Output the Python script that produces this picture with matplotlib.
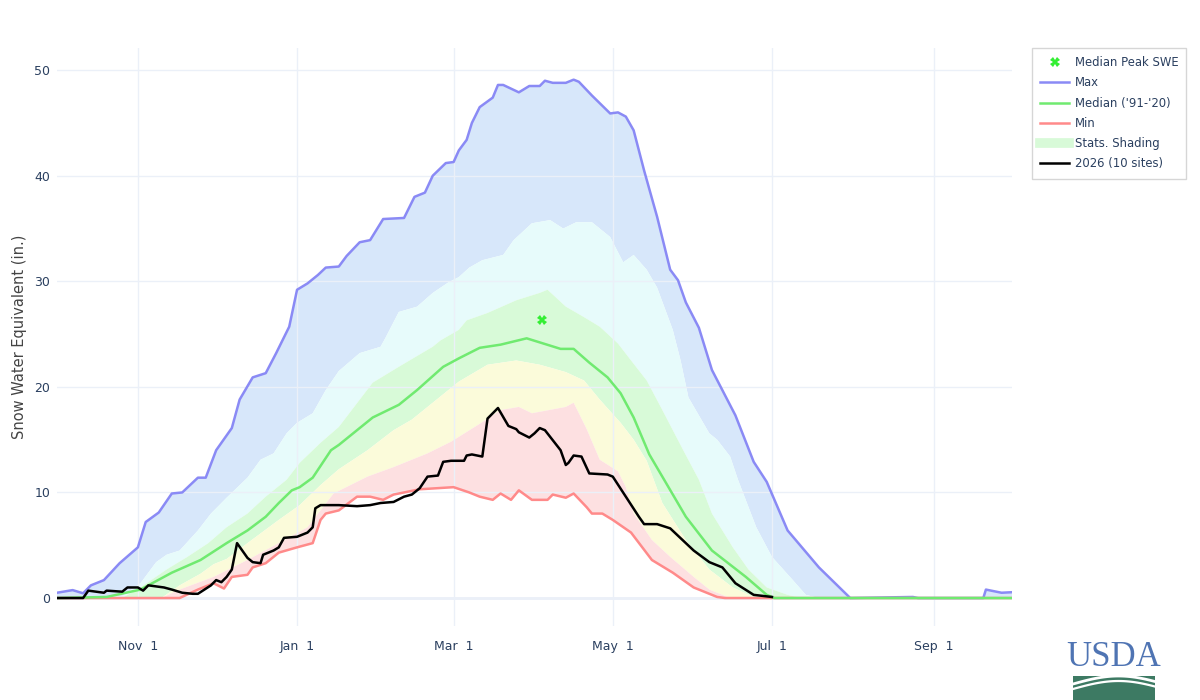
import numpy as np
import matplotlib
matplotlib.use('Agg')
import matplotlib.pyplot as plt
from matplotlib.lines import Line2D
from matplotlib.patches import Rectangle

plt.rcParams['font.family'] = ['DejaVu Sans']

# x values are days since Oct 1 (leap-year axis, 366 days)
max_day = [0, 6, 10, 13, 18, 24, 31, 34, 39, 44, 48, 54, 57, 61, 67, 70, 75, 80, 84, 89,
           92, 96, 100, 103, 108, 111, 116, 120, 125, 133, 137, 141, 144, 149, 152, 154,
           157, 159, 162, 167, 169, 171, 177, 181, 185, 187, 190, 195, 198, 200, 205,
           212, 215, 218, 221, 225, 230, 235, 238, 241, 246, 251, 260, 267, 272, 280,
           292, 304, 328, 330, 355, 356, 362, 366]
max_swe = [0.5, 0.75, 0.45, 1.2, 1.7, 3.3, 4.8, 7.2, 8.1, 9.9, 10.0, 11.4, 11.4, 14.0,
           16.1, 18.8, 20.9, 21.3, 23.2, 25.7, 29.2, 29.8, 30.6, 31.3, 31.4, 32.4, 33.7,
           33.9, 35.9, 36.0, 38.0, 38.4, 40.0, 41.2, 41.3, 42.4, 43.4, 45.0, 46.5, 47.4,
           48.6, 48.6, 47.9, 48.5, 48.5, 49.0, 48.8, 48.8, 49.1, 48.9, 47.6, 45.9, 46.0,
           45.6, 44.3, 40.5, 36.1, 31.1, 30.1, 28.0, 25.6, 21.6, 17.3, 12.9, 11.0, 6.4,
           2.9, 0.0, 0.1, 0.0, 0.0, 0.8, 0.5, 0.55]

p90_day = [0, 25, 32, 38, 42, 47, 54, 59, 65, 73, 78, 83, 88, 92, 98, 103, 108, 116,
           124, 126, 131, 138, 144, 150, 154, 158, 163, 171, 175, 182, 189, 194, 199,
           205, 212, 217, 221, 226, 230, 236, 239, 242, 250, 253, 258, 261, 268, 274,
           282, 287, 292, 366]
p90_swe = [0, 0.2, 1.4, 3.4, 4.1, 4.5, 6.4, 8.0, 9.5, 11.4, 13.1, 13.7, 15.6, 16.6,
           17.5, 19.7, 21.5, 23.2, 23.8, 24.7, 27.1, 27.6, 28.9, 29.9, 30.4, 31.3, 32.0,
           32.5, 33.9, 35.5, 35.8, 35.0, 35.6, 35.6, 34.2, 31.8, 32.5, 31.1, 29.4, 25.4,
           22.5, 19.0, 15.6, 15.0, 13.4, 11.2, 6.7, 3.9, 1.7, 0.3, 0, 0]

p70_day = [0, 25, 32, 42, 50, 58, 65, 73, 80, 88, 93, 101, 108, 121, 131, 144, 147,
           154, 157, 165, 176, 185, 188, 195, 202, 208, 215, 220, 226, 232, 240, 246,
           251, 259, 265, 272, 280, 285, 366]
p70_swe = [0, 0, 1.0, 2.7, 3.9, 5.2, 6.7, 8.0, 9.6, 11.2, 12.8, 14.7, 16.2, 20.4, 21.9,
           23.8, 24.4, 25.4, 26.3, 27.0, 28.2, 28.9, 29.2, 27.6, 26.6, 25.7, 24.1, 22.5,
           20.6, 17.8, 14.0, 11.2, 8.0, 4.8, 2.7, 1.0, 0.3, 0, 0]

med_day = [0, 19, 32, 44, 55, 65, 73, 80, 85, 90, 93, 98, 105, 108, 121, 131, 138, 148,
           154, 162, 170, 180, 193, 198, 204, 211, 216, 221, 227, 241, 251, 264, 272,
           275, 366]
med_swe = [0, 0.1, 0.8, 2.4, 3.6, 5.2, 6.4, 7.7, 9.0, 10.2, 10.5, 11.4, 14.0, 14.5,
           17.1, 18.3, 19.7, 21.9, 22.7, 23.7, 24.0, 24.6, 23.6, 23.6, 22.3, 20.9, 19.4,
           17.1, 13.6, 7.7, 4.5, 2.0, 0.3, 0, 0]

p30_day = [0, 40, 47, 55, 60, 65, 73, 85, 93, 101, 108, 119, 129, 136, 144, 154, 165,
           176, 185, 195, 202, 208, 216, 221, 226, 232, 241, 250, 259, 267, 270, 366]
p30_swe = [0, 0, 1.2, 2.3, 3.2, 3.7, 5.2, 7.4, 8.8, 10.7, 12.2, 14.0, 15.9, 16.9, 18.5,
           20.5, 22.1, 22.5, 22.1, 21.4, 20.6, 18.8, 16.6, 15.0, 13.0, 9.0, 5.5, 2.7,
           1.0, 0.1, 0, 0]

p10_day = [0, 40, 47, 60, 73, 85, 96, 106, 119, 129, 142, 151, 162, 170, 177, 182, 195,
           198, 203, 208, 215, 218, 221, 228, 235, 244, 250, 257, 260, 366]
p10_swe = [0, 0, 0.8, 2.0, 3.6, 5.2, 6.7, 9.9, 11.5, 12.4, 13.7, 14.8, 16.5, 17.8,
           18.1, 17.5, 18.1, 18.5, 16.0, 13.1, 12.0, 10.5, 8.0, 5.5, 3.9, 2.0, 0.8, 0.1,
           0, 0]

min_day = [0, 47, 54, 60, 64, 67, 73, 75, 80, 85, 92, 98, 101, 103, 108, 115, 120, 125,
           129, 139, 152, 158, 162, 167, 170, 174, 177, 182, 188, 190, 195, 198, 203,
           205, 209, 213, 220, 228, 236, 244, 253, 256, 366]
min_swe = [0, 0, 0.8, 1.4, 0.9, 2.0, 2.2, 2.9, 3.3, 4.3, 4.8, 5.2, 7.4, 8.0, 8.3, 9.6,
           9.6, 9.3, 9.8, 10.3, 10.5, 10.0, 9.6, 9.3, 9.9, 9.3, 10.2, 9.3, 9.3, 9.8, 9.5,
           9.9, 8.6, 8.0, 8.0, 7.4, 6.2, 3.6, 2.4, 1.0, 0.1, 0, 0]

wy_day = [0, 10, 12, 18, 19, 25, 27, 31, 33, 35, 41, 44, 48, 52, 54, 59, 61, 63, 65, 67,
          69, 73, 75, 78, 79, 83, 85, 87, 92, 96, 98, 99, 101, 108, 115, 120, 124, 129,
          133, 136, 139, 142, 146, 148, 151, 156, 157, 159, 163, 165, 167, 169, 173, 176,
          177, 181, 183, 185, 187, 193, 195, 196, 198, 201, 204, 211, 213, 218, 223, 225,
          230, 235, 244, 250, 255, 260, 267, 274]
wy_swe = [0, 0, 0.7, 0.5, 0.7, 0.6, 1.0, 1.0, 0.7, 1.2, 1.0, 0.8, 0.5, 0.4, 0.4, 1.2,
          1.7, 1.5, 2.0, 2.7, 5.2, 3.8, 3.4, 3.3, 4.1, 4.5, 4.8, 5.7, 5.8, 6.2, 6.7, 8.5,
          8.8, 8.8, 8.7, 8.8, 9.0, 9.1, 9.6, 9.8, 10.4, 11.5, 11.6, 12.9, 13.0, 13.0,
          13.5, 13.6, 13.4, 17.0, 17.5, 18.0, 16.3, 16.0, 15.7, 15.2, 15.6, 16.1, 15.9,
          14.0, 12.6, 12.8, 13.5, 13.4, 11.8, 11.7, 11.5, 9.6, 7.7, 7.0, 7.0, 6.6, 4.5,
          3.4, 2.9, 1.4, 0.3, 0.1]

peak_day = 186
peak_swe = 26.3

tick_days = [31, 92, 152, 213, 274, 336]
tick_labels = ['Nov  1', 'Jan  1', 'Mar  1', 'May  1', 'Jul  1', 'Sep  1']

font_col = '#2a3f5f'
grid_col = '#ebf0f8'

fig = plt.figure(figsize=(12, 7), dpi=100)
ax = fig.add_axes([57 / 1200, 1 - 626 / 700, (1012 - 57) / 1200, (626 - 48) / 700])


def band(xu, yu, xl, yl, color):
    xs = np.r_[xu, xl[::-1]]
    ys = np.r_[yu, yl[::-1]]
    ax.fill(xs, ys, color=color, lw=0, zorder=1)


band(max_day, max_swe, p90_day, p90_swe, '#d7e7fa')
band(p90_day, p90_swe, p70_day, p70_swe, '#e7fbfb')
band(p70_day, p70_swe, p30_day, p30_swe, '#d8fad8')
band(p30_day, p30_swe, p10_day, p10_swe, '#fbfbda')
band(p10_day, p10_swe, min_day, min_swe, '#fde0e1')

ax.axhline(0, color=grid_col, lw=2, zorder=1.5)
ax.plot(max_day, max_swe, color='#8a8af5', lw=1.8, zorder=3)
ax.plot(min_day, min_swe, color='#ff8a8a', lw=1.8, zorder=3)
ax.plot(med_day, med_swe, color='#70ea70', lw=1.8, zorder=3.2)
ax.plot(wy_day, wy_swe, color='black', lw=1.8, zorder=4)
ax.plot([peak_day], [peak_swe], marker='X', color='#33ee33', ms=7, mew=0, ls='none', zorder=5)

ax.set_xlim(0, 366)
ax.set_ylim(-2.65, 52.1)
ax.set_xticks(tick_days)
ax.set_xticklabels(tick_labels)
ax.set_yticks([0, 10, 20, 30, 40, 50])
ax.tick_params(length=0, labelsize=9, colors=font_col)
ax.tick_params(axis='x', pad=10)
ax.tick_params(axis='y', pad=5)
ax.grid(True, color=grid_col, lw=1)
ax.set_axisbelow(False)
for s in ax.spines.values():
    s.set_visible(False)
ax.set_ylabel('Snow Water Equivalent (in.)', fontsize=10.5, color='#444444', labelpad=5)

handles = [
    Line2D([], [], marker='X', color='#33ee33', ms=7, mew=0, ls='none'),
    Line2D([], [], color='#8a8af5', lw=1.8),
    Line2D([], [], color='#70ea70', lw=1.8),
    Line2D([], [], color='#ff8a8a', lw=1.8),
    Line2D([], [], color='#d8fad8', lw=7),
    Line2D([], [], color='black', lw=1.8),
]
labels = ['Median Peak SWE', 'Max', "Median ('91-'20)", 'Min', 'Stats. Shading', '2026 (10 sites)']
leg = fig.legend(handles, labels, loc='upper left', bbox_to_anchor=(1032 / 1200, 1 - 48 / 700),
                 borderaxespad=0, fontsize=8.4, frameon=True, fancybox=False,
                 handlelength=2.5, handletextpad=0.45, labelspacing=0.62, borderpad=0.7,
                 labelcolor=font_col)
leg.get_frame().set_edgecolor('#cccccc')
leg.get_frame().set_linewidth(1)

# USDA logo
fig.text(1114 / 1200, 1 - 657 / 700, 'USDA', ha='center', va='center',
         fontfamily='Liberation Serif', fontsize=25, color='#4f74b3')
fig.add_artist(Rectangle((1073 / 1200, 0), 82 / 1200, 24 / 700,
                         transform=fig.transFigure, color='#3d7a63', lw=0))
t = np.linspace(0, 1, 30)
for off, w in [(0.0, 2.0), (5.0, 1.6)]:
    xs = (1073 + 82 * t) / 1200
    ys = 1 - (684 + off - 8 * np.sin(np.pi * t * 0.9)) / 700
    fig.add_artist(Line2D(xs, ys, transform=fig.transFigure, color='white', lw=w))

fig.savefig('out.png', dpi=100)
